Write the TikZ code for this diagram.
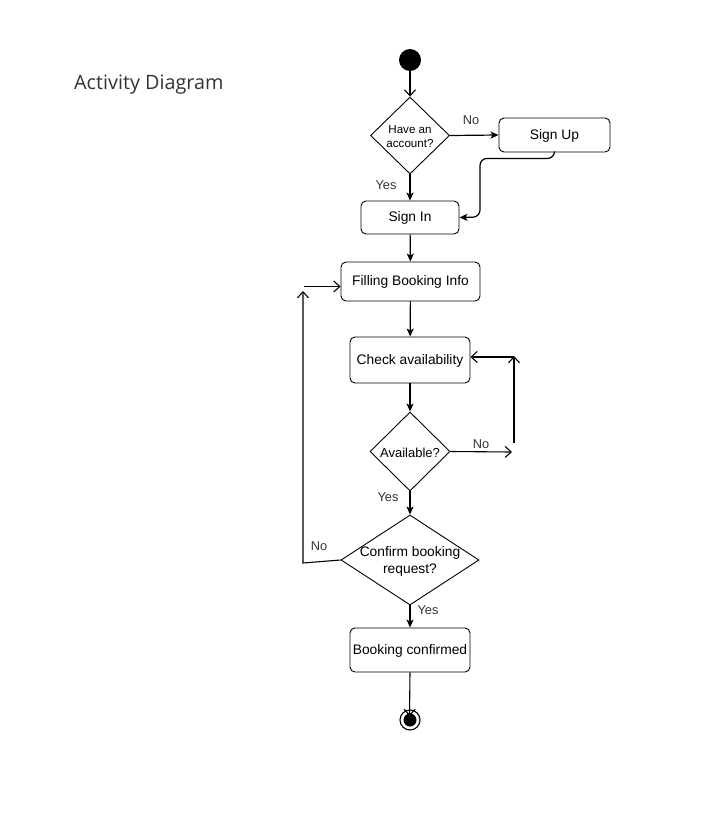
\documentclass[tikz,border=0pt]{standalone}
\usepackage{fontspec}
\setmainfont{Liberation Sans}
\newfontfamily\titlefont{Open Sans}
\usetikzlibrary{arrows.meta,positioning,shapes.geometric}

\begin{document}
\begin{tikzpicture}[
    x=1pt, y=-1pt,
    % --- Node styles ---
    startnode/.style={circle, fill=black, minimum size=22pt, inner sep=0pt},
    endnode/.style={circle, draw, line width=1.1pt, minimum size=20pt, inner sep=0pt,
        path picture={\fill (path picture bounding box.center) circle (6.5pt);}},
    action/.style={draw, rounded corners=5pt, line width=0.9pt, inner sep=0pt,
        text height=10.5pt, text depth=2pt, font=\fontsize{13.8}{16}\selectfont},
    decision/.style={draw, diamond, line width=0.9pt, inner sep=0pt},
    guard/.style={font=\fontsize{12.8}{15}\selectfont, text=black!80},
    % --- Edge styles ---
    flow/.style={-{Stealth[length=8pt, width=7pt, inset=2pt]}, line width=1.2pt},
    openflow/.style={-{Straight Barb[length=6pt, width=11pt]}, line width=1.1pt},
]

% --- title ---
\node[anchor=base west, inner sep=0pt, font=\titlefont\fontsize{19.8}{22}\selectfont, text=black!80]
  (title) at (74,89) {Activity Diagram};

% --- nodes ---
\node[startnode] (start) at (410,60) {};
\node[decision, minimum width=79pt, minimum height=77pt,
  label={[align=center, yshift=-1pt, font=\fontsize{11.6}{14}\selectfont]center:{Have an\\account?}}]
  (account) at (410,135.5) {};
\node[action, minimum width=111pt, minimum height=34pt] (signup) at (554.5,135) {Sign Up};
\node[action, minimum width=98pt, minimum height=33pt] (signin) at (410,217.5) {Sign In};
\node[action, minimum width=139pt, minimum height=39pt] (filling) at (410.5,281.5) {Filling Booking Info};
\node[action, minimum width=120pt, minimum height=46pt] (check) at (410,360) {Check availability};
\node[decision, minimum width=80pt, minimum height=79pt,
  label={[yshift=-1pt, font=\fontsize{13}{15}\selectfont]center:Available?}]
  (avail) at (410,451.5) {};
\node[decision, minimum width=138pt, minimum height=90pt,
  label={[align=center, yshift=-1pt, font=\fontsize{13.8}{17}\selectfont]center:{Confirm booking\\request?}}]
  (confirm) at (410,560) {};
\node[action, minimum width=120pt, minimum height=44pt] (booked) at (410,650) {Booking confirmed};
\node[endnode] (finish) at (410,720) {};

% loose end points of the detached edges
\coordinate (availno) at (512,452);
\coordinate (loopbot) at (514,443);
\coordinate (looptop) at (514,356);
\coordinate (loopcorner) at (514,357);
\coordinate (backbot) at (303,563);
\coordinate (backtop) at (303,291);
\coordinate (backstart) at (304,286.5);
\coordinate (endtip) at (409.5,716);

% --- edges ---
\draw[openflow] (start) -- (account.north);
\draw[flow] (account.east) -- (signup.west);
\draw[flow] (account.south) -- (signin.north);
\draw[flow, rounded corners=7pt] (signup.south) -- ++(0,6) -| (480,217) -- (signin.east);
\draw[flow] (signin) -- (filling);
\draw[flow] (filling) -- (check);
\draw[flow] (check) -- (avail.north);
\draw[openflow] (avail.east) -- (availno);
\draw[openflow] (loopbot) -- (looptop);
\draw[openflow] (loopcorner) -- (check.east |- loopcorner);
\draw[flow] (avail.south) -- (confirm.north);
\draw[openflow] (confirm.west) -- (backbot) -- (backtop);
\draw[openflow] (backstart) -- (filling.west |- backstart);
\draw[flow] (confirm.south) -- (booked.north);
\draw[openflow] (booked.south) -- (endtip);

% --- guards ---
\node[guard] (g1) at (471,120) {No};
\node[guard] (g2) at (386,185) {Yes};
\node[guard] (g3) at (481,444) {No};
\node[guard] (g4) at (388,497) {Yes};
\node[guard] (g5) at (319,546) {No};
\node[guard] (g6) at (428,610) {Yes};

\useasboundingbox (0,0) rectangle (710,830);
\end{tikzpicture}
\end{document}
